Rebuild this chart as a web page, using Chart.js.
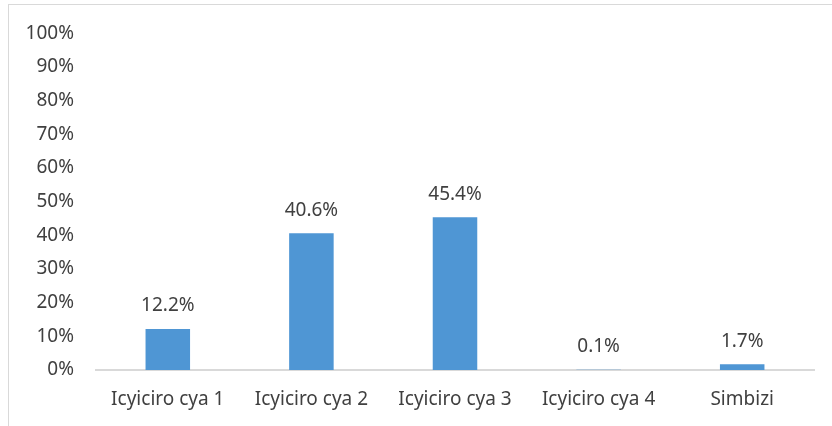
<!DOCTYPE html>
<html>
<head>
<meta charset="utf-8">
<script src="https://cdn.jsdelivr.net/npm/chart.js@4"></script>
<style>
  html, body { margin: 0; padding: 0; background: #fff; overflow: hidden; }
  .frame {
      position: absolute; left: 8px; top: 4px;
      width: 840px; height: 440px;
      border: 1.5px solid #d9d9d9;
      box-sizing: border-box;
  }
  .wrap { position: absolute; left: 0; top: 0; width: 832px; height: 426px; }
</style>
</head>
<body>
<div class="frame"></div>
<div class="wrap"><canvas id="chart"></canvas></div>
<script>
  // Data
  const categories = ['Icyiciro cya 1', 'Icyiciro cya 2', 'Icyiciro cya 3', 'Icyiciro cya 4', 'Simbizi'];
  const shares = [12.2, 40.6, 45.4, 0.1, 1.7];
  const yTicks = [0, 10, 20, 30, 40, 50, 60, 70, 80, 90, 100];

  const fontFamily = '"Noto Sans", "Open Sans", sans-serif';
  const fontSize = 19;
  const textColor = '#404040';

  // Value labels above each bar
  const barLabels = {
      id: 'barLabels',
      afterDatasetsDraw(chart) {
          const ctx = chart.ctx;
          const meta = chart.getDatasetMeta(0);
          ctx.save();
          ctx.font = fontSize + 'px ' + fontFamily;
          ctx.fillStyle = textColor;
          ctx.textAlign = 'center';
          ctx.textBaseline = 'middle';
          meta.data.forEach((bar, i) => {
              ctx.fillText(shares[i].toFixed(1) + '%', bar.x, bar.y - 23);
          });
          ctx.restore();
      }
  };

  document.addEventListener('DOMContentLoaded', function() {
      const ctx = document.getElementById('chart').getContext('2d');
      new Chart(ctx, {
          type: 'bar',
          data: {
              labels: categories,
              datasets: [{
                  data: shares,
                  backgroundColor: '#4f96d4',
                  categoryPercentage: 1,
                  barPercentage: 0.31
              }]
          },
          options: {
              responsive: true,
              maintainAspectRatio: false,
              animation: false,
              layout: { padding: { top: 32, right: 18, left: 0, bottom: 0 } },
              plugins: {
                  legend: { display: false },
                  tooltip: { enabled: false }
              },
              scales: {
                  y: {
                      min: 0,
                      max: 100,
                      afterBuildTicks: axis => { axis.ticks = yTicks.map(v => ({ value: v })); },
                      afterFit: axis => { axis.width = 96; },
                      grid: { display: false, drawTicks: false },
                      border: { display: false },
                      ticks: {
                          color: textColor,
                          font: { family: fontFamily, size: fontSize },
                          padding: 22,
                          callback: v => v + '%'
                      }
                  },
                  x: {
                      afterFit: axis => { axis.height = 56; },
                      grid: { display: false, drawTicks: false },
                      border: { color: '#d9d9d9', width: 2 },
                      ticks: {
                          color: textColor,
                          font: { family: fontFamily, size: fontSize },
                          padding: 18
                      }
                  }
              }
          },
          plugins: [barLabels]
      });
  });
</script>
</body>
</html>
